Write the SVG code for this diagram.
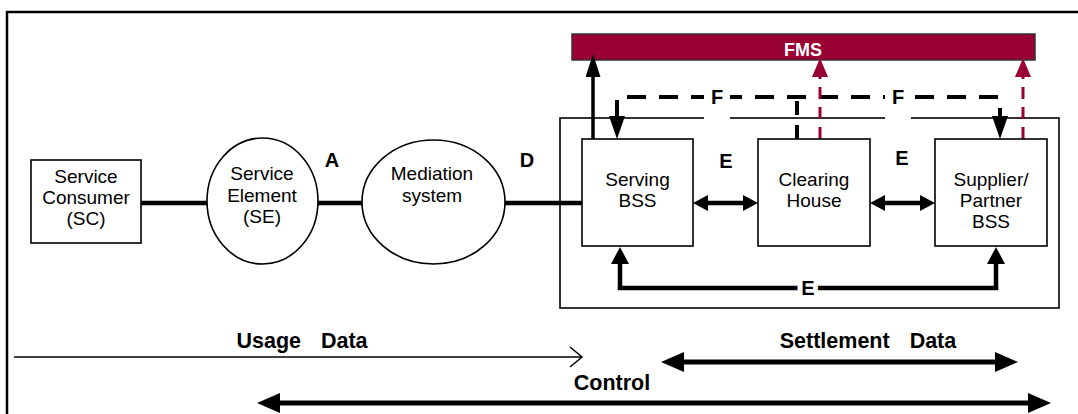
<svg xmlns="http://www.w3.org/2000/svg" width="1078" height="414" viewBox="0 0 1078 414">
<style>
.box{fill:#fff;stroke:#000;stroke-width:1.6}
.t{font-family:"Liberation Sans",Arial,sans-serif;font-size:19px;fill:#000;text-anchor:middle}
.lbl{font-family:"Liberation Sans",Arial,sans-serif;font-size:20px;font-weight:bold;fill:#000;text-anchor:middle}
.big{font-family:"Liberation Sans",Arial,sans-serif;font-size:21.5px;font-weight:bold;fill:#000;text-anchor:middle}
.halo{stroke:#fff;stroke-width:10;paint-order:stroke;stroke-linejoin:round}
.thick{fill:none;stroke:#000;stroke-width:4.5}
.red{fill:none;stroke:#990033;stroke-width:3;stroke-dasharray:12 8}
.dash{fill:none;stroke:#000;stroke-width:4;stroke-dasharray:19 13}
</style>
<defs>
<marker id="aE" viewBox="0 0 15 16" refX="3" refY="8" markerWidth="15" markerHeight="16" markerUnits="userSpaceOnUse" orient="auto-start-reverse"><path d="M0,0L15,8L0,16z" fill="#000"/></marker>
<marker id="aLoop" viewBox="0 0 17 18" refX="3" refY="9" markerWidth="17" markerHeight="18" markerUnits="userSpaceOnUse" orient="auto-start-reverse"><path d="M0,0L17,9L0,18z" fill="#000"/></marker>
<marker id="aUp" viewBox="0 0 23 15" refX="3" refY="7.5" markerWidth="23" markerHeight="15" markerUnits="userSpaceOnUse" orient="auto-start-reverse"><path d="M0,0L23,7.5L0,15z" fill="#000"/></marker>
<marker id="aF" viewBox="0 0 23 16" refX="3" refY="8" markerWidth="23" markerHeight="16" markerUnits="userSpaceOnUse" orient="auto-start-reverse"><path d="M0,0L23,8L0,16z" fill="#000"/></marker>
<marker id="aRed" viewBox="0 0 19 16" refX="3" refY="8" markerWidth="19" markerHeight="16" markerUnits="userSpaceOnUse" orient="auto-start-reverse"><path d="M0,0L19,8L0,16z" fill="#990033"/></marker>
<marker id="aBig" viewBox="0 0 23 20" refX="3" refY="10" markerWidth="23" markerHeight="20" markerUnits="userSpaceOnUse" orient="auto-start-reverse"><path d="M0,0L23,10L0,20z" fill="#000"/></marker>
<marker id="aOpen" viewBox="-2 -2 16 24" refX="12" refY="10" markerWidth="16" markerHeight="24" markerUnits="userSpaceOnUse" orient="auto"><path d="M0,0L12,10L0,20" fill="none" stroke="#000" stroke-width="1.5"/></marker>
</defs>

<path d="M7,414V12H1078" fill="none" stroke="#000" stroke-width="2.5"/>

<g id="settlement-domain">
<rect x="560" y="118" width="499" height="190" fill="none" stroke="#000" stroke-width="1.6"/>
</g>

<g id="fms">
<rect x="572" y="34" width="463" height="26" fill="#990033" stroke="#333" stroke-width="1.5"/>
<text x="803" y="56" class="lbl" style="fill:#fff;font-size:18px">FMS</text>
</g>

<g id="connectors">
<path d="M141,203H207" class="thick"/>
<path d="M318,203H362" class="thick"/>
<path d="M505,203H582" class="thick"/>
<path d="M705,203H746" class="thick" marker-start="url(#aE)" marker-end="url(#aE)"/>
<path d="M882,203H923" class="thick" marker-start="url(#aE)" marker-end="url(#aE)"/>
<path d="M620,261V288H996V261" class="thick" stroke-linejoin="miter" marker-start="url(#aLoop)" marker-end="url(#aLoop)"/>
<path d="M593,139V74" fill="none" stroke="#000" stroke-width="3.5" marker-end="url(#aUp)"/>
<path d="M617,119V97H1000V119" class="dash" marker-start="url(#aF)" marker-end="url(#aF)"/>
<path d="M797,139V97" class="dash" style="stroke-dasharray:14 10"/>
<path d="M820,139V74" class="red" marker-end="url(#aRed)"/>
<path d="M1023,139V74" class="red" marker-end="url(#aRed)"/>
<path d="M14,357H582" fill="none" stroke="#000" stroke-width="1.5" marker-end="url(#aOpen)"/>
<path d="M681,362H998" fill="none" stroke="#000" stroke-width="5" marker-start="url(#aBig)" marker-end="url(#aBig)"/>
<path d="M277,403H1031" fill="none" stroke="#000" stroke-width="5" marker-start="url(#aBig)" marker-end="url(#aBig)"/>
</g>

<g id="labels">
<rect x="704" y="84" width="26" height="36" fill="#fff"/>
<rect x="885" y="84" width="26" height="36" fill="#fff"/>
<text x="717" y="104" class="lbl">F</text>
<text x="898" y="104" class="lbl">F</text>
<text x="332" y="167" class="lbl">A</text>
<text x="527" y="167" class="lbl">D</text>
<text x="726" y="168" class="lbl">E</text>
<text x="902" y="165" class="lbl">E</text>
<text x="808" y="295" class="lbl halo">E</text>
<text x="302" y="348" class="big">Usage <tspan dx="14">Data</tspan></text>
<text x="868" y="348" class="big">Settlement <tspan dx="14">Data</tspan></text>
<text x="612" y="390" class="big">Control</text>
</g>

<g id="service-consumer">
<rect x="31" y="160" width="110" height="83" class="box"/>
<text x="86" y="183" class="t">Service</text>
<text x="86" y="204" class="t">Consumer</text>
<text x="86" y="225" class="t">(SC)</text>
</g>

<g id="service-element">
<ellipse cx="262.5" cy="201" rx="55.5" ry="63" class="box"/>
<text x="262" y="180" class="t">Service</text>
<text x="262" y="202" class="t">Element</text>
<text x="262" y="223" class="t">(SE)</text>
</g>

<g id="mediation">
<ellipse cx="433.5" cy="202" rx="71.5" ry="62" class="box"/>
<text x="432" y="180" class="t">Mediation</text>
<text x="432" y="202" class="t">system</text>
</g>

<g id="serving-bss">
<rect x="582" y="139" width="111" height="107" class="box"/>
<text x="637.5" y="186" class="t">Serving</text>
<text x="637.5" y="207" class="t">BSS</text>
</g>

<g id="clearing-house">
<rect x="758" y="139" width="112" height="107" class="box"/>
<text x="814" y="186" class="t">Clearing</text>
<text x="814" y="207" class="t">House</text>
</g>

<g id="supplier-bss">
<rect x="935" y="139" width="112" height="107" class="box"/>
<text x="991" y="186" class="t">Supplier/</text>
<text x="991" y="207" class="t">Partner</text>
<text x="991" y="228" class="t">BSS</text>
</g>
</svg>
